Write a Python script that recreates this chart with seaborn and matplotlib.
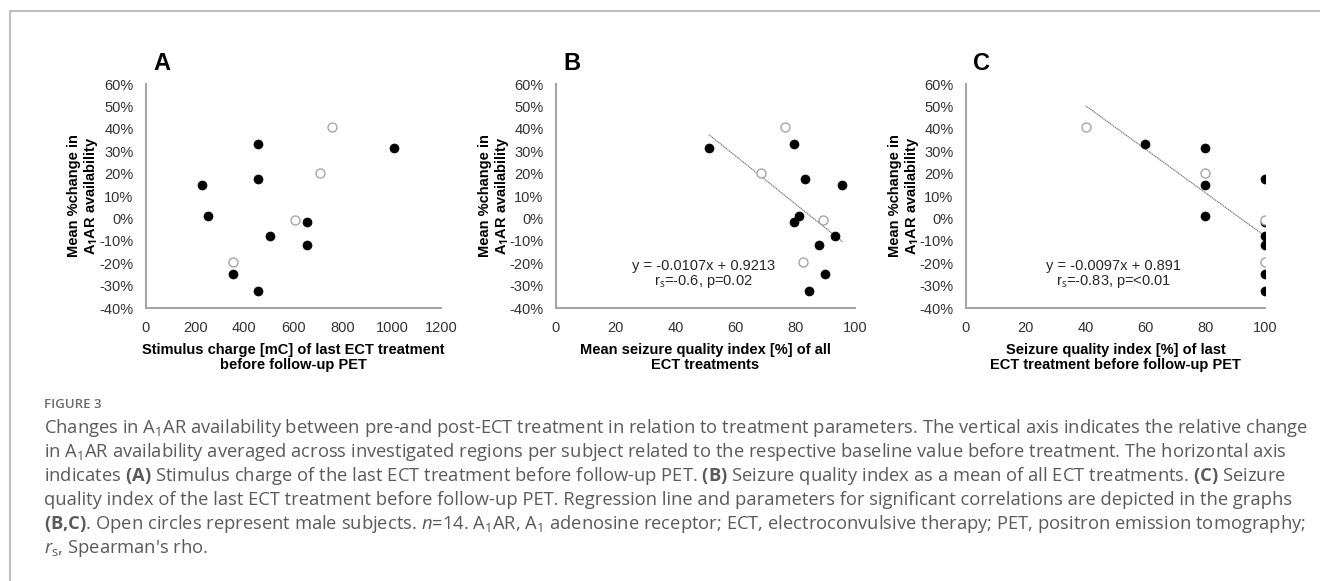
import matplotlib
matplotlib.use("Agg")
import matplotlib.pyplot as plt
import matplotlib.ticker as mticker
from matplotlib.lines import Line2D
import seaborn as sns
import pandas as pd

# change in A1AR availability (%) for the 14 subjects, same order in every panel
change = [41.0, 20.4, -0.5, -19.5,
          33.4, 31.6, 17.4, 15.0, 1.2, -1.8, -8.0, -11.8, -24.7, -32.4]
male = [True, True, True, True,
        False, False, False, False, False, False, False, False, False, False]

# panel A: stimulus charge [mC]
charge = [758, 708, 607, 354,
          454, 1009, 454, 226, 252, 656, 504, 656, 354, 454]
# panel B: mean seizure quality index [%]
sqi_mean = [76.5, 68.5, 89.4, 82.5,
            79.7, 51.1, 83.3, 95.8, 81.4, 79.7, 93.3, 88.0, 90.0, 84.7]
# panel C: seizure quality index of last treatment [%]
sqi_last = [40, 80, 100, 100,
            60, 80, 100, 80, 80, 100, 100, 100, 100, 100]

# regression lines (slope, intercept) from the graphs
fit_b = (-0.0107, 0.9213)
fit_c = (-0.0097, 0.891)

y_ticks = [-0.4, -0.3, -0.2, -0.1, 0.0, 0.1, 0.2, 0.3, 0.4, 0.5, 0.6]

sns.set_theme(style="white")
plt.rcParams["font.family"] = ["Liberation Sans", "DejaVu Sans"]
plt.rcParams["mathtext.fontset"] = "custom"
plt.rcParams["mathtext.rm"] = "Liberation Sans"
plt.rcParams["mathtext.it"] = "Liberation Sans:italic"
plt.rcParams["mathtext.bf"] = "Liberation Sans:bold"

W, H = 1320, 581
fig = plt.figure(figsize=(W / 100, H / 100), dpi=100)
fig.patch.set_facecolor("white")


def px_axes(left, right, top, bottom):
    return fig.add_axes([left / W, 1 - bottom / H, (right - left) / W, (bottom - top) / H])


# frame around the figure panel
fig.add_artist(Line2D([10 / W, 10 / W, 1.0], [0.0, 1 - 11 / H, 1 - 11 / H],
                      transform=fig.transFigure, color="#bdbdbd", lw=1.5))

panels = [
    dict(x=charge, xlim=(0, 1200), step=200, left=146, right=441, letter="A",
         xlabel="Stimulus charge [mC] of last ECT treatment\nbefore follow-up PET",
         fit=None, ylab_x=-0.212),
    dict(x=sqi_mean, xlim=(0, 100), step=20, left=556, right=855, letter="B",
         xlabel="Mean seizure quality index [%] of all\nECT treatments",
         fit=fit_b, stats=r"r$_\mathrm{s}$=-0.6, p=0.02", ylab_x=-0.205),
    dict(x=sqi_last, xlim=(0, 100), step=20, left=966, right=1265, letter="C",
         xlabel="Seizure quality index [%] of last\nECT treatment before follow-up PET",
         fit=fit_c, stats=r"r$_\mathrm{s}$=-0.83, p=<0.01", ylab_x=-0.205),
]

for p in panels:
    ax = px_axes(p["left"], p["right"], 84, 308)
    df = pd.DataFrame({"x": p["x"], "y": [v / 100 for v in change], "male": male})

    sns.scatterplot(data=df[~df["male"]], x="x", y="y", ax=ax, color="black",
                    s=42, edgecolor="black", linewidth=0.5, zorder=3)
    sns.scatterplot(data=df[df["male"]], x="x", y="y", ax=ax, facecolor="white",
                    s=42, edgecolor="#a6a6a6", linewidth=1.0, zorder=3)

    if p["fit"] is not None:
        k, d = p["fit"]
        xs = [min(p["x"]), max(p["x"])]
        line = pd.DataFrame({"x": xs, "y": [k * v + d for v in xs]})
        sns.lineplot(data=line, x="x", y="y", ax=ax, color="#6e6e6e", lw=0.8,
                     linestyle=(0, (1.2, 0.6)), zorder=2)
        ax.text(0.493, 0.188, f"y = {k}x + {d}", transform=ax.transAxes,
                ha="center", va="center", fontsize=10.5, color="#262626")
        ax.text(0.493, 0.12, p["stats"], transform=ax.transAxes,
                ha="center", va="center", fontsize=10.5, color="#262626")

    ax.set_xlim(*p["xlim"])
    ax.set_ylim(-0.4, 0.6)
    ax.set_xticks(list(range(p["xlim"][0], p["xlim"][1] + 1, p["step"])))
    ax.set_yticks(y_ticks)
    ax.yaxis.set_major_formatter(mticker.FuncFormatter(lambda v, _: f"{v * 100:.0f}%"))
    ax.tick_params(axis="both", length=0, labelsize=10.5, labelcolor="#333333")
    ax.tick_params(axis="y", pad=9)
    ax.tick_params(axis="x", pad=9)
    for side in ["top", "right"]:
        ax.spines[side].set_visible(False)
    for side in ["left", "bottom"]:
        ax.spines[side].set_color("#a6a6a6")
        ax.spines[side].set_linewidth(1.5)

    ax.set_xlabel(p["xlabel"], fontsize=10.5, fontweight="bold", color="black",
                  labelpad=6, linespacing=1.15)
    ax.set_ylabel("")
    ax.text(p["ylab_x"], 0.5, "Mean %change in\nA$_\\mathbf{1}$AR availability",
            transform=ax.transAxes, rotation=90, ha="center", va="center",
            fontsize=10.5, fontweight="bold", color="black", linespacing=1.1)

    fig.text((p["left"] + 16) / W, 1 - 63 / H, p["letter"], ha="center", va="center",
             fontsize=17, fontweight="bold", color="black")

# caption
cap_font = ["Open Sans", "DejaVu Sans"]
plt.rcParams["mathtext.rm"] = "Open Sans"
plt.rcParams["mathtext.it"] = "Open Sans:italic"
plt.rcParams["mathtext.bf"] = "Open Sans:bold"

fig.text(44 / W, 1 - 405 / H, "FIGURE 3", ha="left", va="center", fontsize=9.5,
         fontweight="semibold", color="#6b6b6b", family=cap_font)

caption = [
    r"Changes in A$_1$AR availability between pre-and post-ECT treatment in relation to treatment parameters. The vertical axis indicates the relative change",
    r"in A$_1$AR availability averaged across investigated regions per subject related to the respective baseline value before treatment. The horizontal axis",
    r"indicates $\mathbf{(A)}$ Stimulus charge of the last ECT treatment before follow-up PET. $\mathbf{(B)}$ Seizure quality index as a mean of all ECT treatments. $\mathbf{(C)}$ Seizure",
    r"quality index of the last ECT treatment before follow-up PET. Regression line and parameters for significant correlations are depicted in the graphs",
    r"$\mathbf{(B{,}C)}$. Open circles represent male subjects. $\it{n}$=14. A$_1$AR, A$_1$ adenosine receptor; ECT, electroconvulsive therapy; PET, positron emission tomography;",
    r"$\it{r}_\mathrm{s}$, Spearman's rho.",
]
for i, line in enumerate(caption):
    fig.text(44 / W, 1 - (428 + 24 * i) / H, line, ha="left", va="center",
             fontsize=13.2, color="#5a5a5a", family=cap_font)

fig.savefig("out.png", dpi=100, facecolor="white")
